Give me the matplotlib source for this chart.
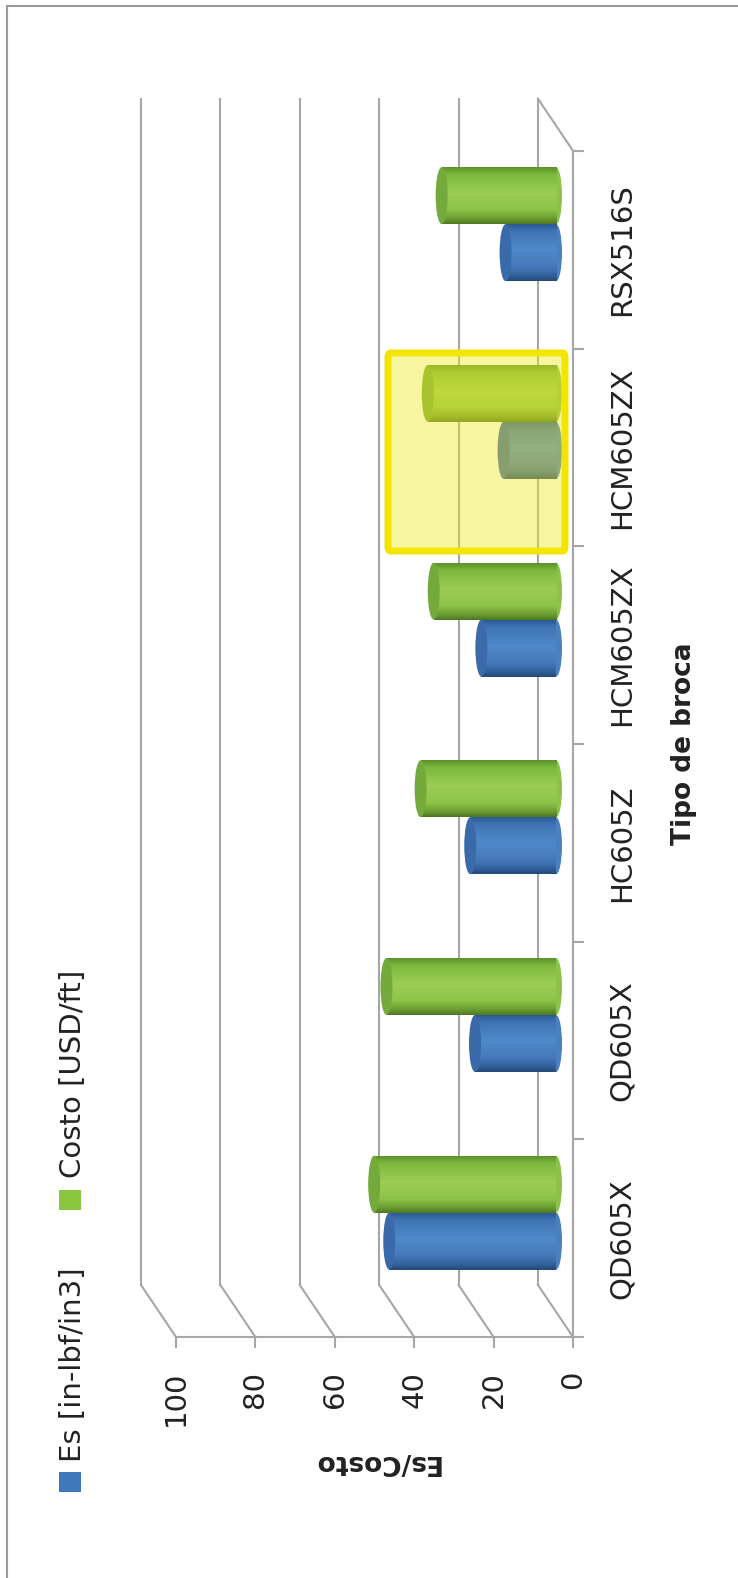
import numpy as np
import matplotlib
matplotlib.use("Agg")
import matplotlib.pyplot as plt
from matplotlib.patches import Ellipse, Rectangle, FancyBboxPatch
from matplotlib.colors import to_rgb

# data
categories = ["QD605X", "QD605X", "HC605Z", "HCM605ZX", "HCM605ZX", "RSX516S"]
es_values = [42.0, 20.4, 21.6, 18.8, 13.2, 12.7]
costo_values = [45.8, 42.7, 34.1, 30.8, 32.3, 28.8]
value_ticks = [0, 20, 40, 60, 80, 100]
legend_labels = ["Es [in-lbf/in3]", "Costo [USD/ft]"]
highlight_index = 4

W, H = 738, 1578
# pixel layout of the (rotated) 3D chart
ZERO_PX = 573.0        # x pixel of value 0 on the front edge
PX_PER_UNIT = 3.97
FLOOR_PX = 1337.0      # y pixel of the front floor edge
CAT_PX = 197.7         # pixels per category
DV_BACK, DC_BACK = 35 / PX_PER_UNIT, 52 / CAT_PX
DV_MID, DC_MID = 17 / PX_PER_UNIT, 25.5 / CAT_PX
BAR_H = 57 / CAT_PX
CAP_W = 12 / PX_PER_UNIT

GRID = "#a6a6a6"
TXT = "#222222"

green = {"stops": ["#5e922c", "#7cb83c", "#9ccd55", "#8ec448", "#6e9f33", "#4e7a22"],
         "cap": "#74aa3c", "end": "#8cc24a"}
blue = {"stops": ["#2c5b93", "#3f74b5", "#5089cb", "#4679bb", "#33639e", "#234a78"],
        "cap": "#3a6aaa", "end": "#4a80c0"}
stop_pos = [0.0, 0.12, 0.45, 0.75, 0.9, 1.0]


def fig_xy(px, py):
    return px / W, 1 - py / H


def cylinder(ax, c_mid, val, style):
    v0, v1 = DV_MID, DV_MID + val
    lo, hi = c_mid - BAR_H / 2, c_mid + BAR_H / 2
    ax.add_patch(Ellipse((v0, c_mid), CAP_W, BAR_H, color=style["end"], zorder=3, lw=0))
    rgb = np.array([to_rgb(c) for c in style["stops"]])
    t = np.linspace(0, 1, 64)
    grad = np.stack([np.interp(t, stop_pos, rgb[:, k]) for k in range(3)], axis=1)
    ax.imshow(grad[:, None, :], extent=(v0, v1, lo, hi), aspect="auto",
              interpolation="bilinear", origin="upper", zorder=4)
    ax.add_patch(Ellipse((v1, c_mid), CAP_W, BAR_H, color=style["cap"], zorder=5, lw=0))


fig = plt.figure(figsize=(W / 100, H / 100), dpi=100)
fig.patch.set_facecolor("white")
ax = fig.add_axes([0, 0, 1, 1])
ax.axis("off")

n = len(categories)
c_lo, c_hi = -0.5, n - 0.5

# back wall lines and floor diagonals
for t in value_ticks:
    ax.plot([t + DV_BACK, t + DV_BACK], [c_lo + DC_BACK, c_hi + DC_BACK], color=GRID, lw=1.5, zorder=1)
    ax.plot([t, t + DV_BACK], [c_lo, c_lo + DC_BACK], color=GRID, lw=1.5, zorder=1)
    ax.plot([t, t], [c_lo, c_lo - 10 / CAT_PX], color=GRID, lw=1.5, zorder=1)
ax.plot([0, DV_BACK], [c_hi, c_hi + DC_BACK], color=GRID, lw=1.5, zorder=1)
# front axes
ax.plot([0, 0], [c_lo, c_hi], color=GRID, lw=1.5, zorder=1)
ax.plot([0, max(value_ticks)], [c_lo, c_lo], color=GRID, lw=1.5, zorder=1)
for b in np.arange(c_lo, c_hi + 0.01, 1.0):
    ax.plot([0, -10 / PX_PER_UNIT], [b, b], color=GRID, lw=1.5, zorder=1)

# bars
for i in range(n):
    base = i + DC_MID
    cylinder(ax, base - BAR_H / 2, es_values[i], blue)
    cylinder(ax, base + BAR_H / 2, costo_values[i], green)

# tick labels
label_c = (FLOOR_PX - 1371) / CAT_PX - 0.5
for t in value_ticks:
    ax.text(t, label_c, str(t), rotation=90, ha="center", va="top", fontsize=21, color=TXT)
cat_v = (ZERO_PX - 622) / PX_PER_UNIT
for i, name in enumerate(categories):
    ax.text(cat_v, i, name, rotation=90, ha="center", va="center", fontsize=21, color=TXT)

ax.set_xlim(ZERO_PX / PX_PER_UNIT, (ZERO_PX - W) / PX_PER_UNIT)
ax.set_ylim((FLOOR_PX - H) / CAT_PX - 0.5, FLOOR_PX / CAT_PX - 0.5)

# highlight box on the second HCM605ZX
x0, y0 = fig_xy(388, 551)
x1, y1 = fig_xy(565, 353)
fig.patches.append(Rectangle((x0, y0), x1 - x0, y1 - y0, transform=fig.transFigure,
                             facecolor="#f0e81e", alpha=0.42, lw=0, zorder=6))
fig.patches.append(FancyBboxPatch((x0, y0), x1 - x0, y1 - y0, transform=fig.transFigure,
                                  boxstyle="round,pad=0,rounding_size=0.003",
                                  facecolor="none", edgecolor="#f2e600", lw=5, zorder=7))

# axis titles
tx, ty = fig_xy(684, 744)
fig.text(tx, ty, "Tipo de broca", rotation=90, ha="center", va="center",
         fontsize=19, fontweight="bold", color=TXT)
tx, ty = fig_xy(376, 1462)
fig.text(tx, ty, "Es/Costo", rotation=180, ha="center", va="center",
         fontsize=19, fontweight="bold", color=TXT)

# legend
for label, col, sq_y, txt_y in [(legend_labels[0], "#3f78bd", 1482, 1462),
                                 (legend_labels[1], "#8cc63f", 1200, 1178)]:
    sx, sy = fig_xy(59, sq_y + 10)
    fig.patches.append(Rectangle((sx, sy), 22 / W, 20 / H, transform=fig.transFigure,
                                 facecolor=col, lw=0))
    lx, ly = fig_xy(73, txt_y)
    fig.text(lx, ly, label, rotation=90, ha="center", va="bottom", fontsize=21, color=TXT)

# outer chart border
bx, by = fig_xy(7, H + 20)
fig.patches.append(Rectangle((bx, by), 1.2, (H + 14) / H, transform=fig.transFigure,
                             facecolor="none", edgecolor="#9a9a9a", lw=1.5))

fig.savefig("out.png", dpi=100, facecolor="white")
